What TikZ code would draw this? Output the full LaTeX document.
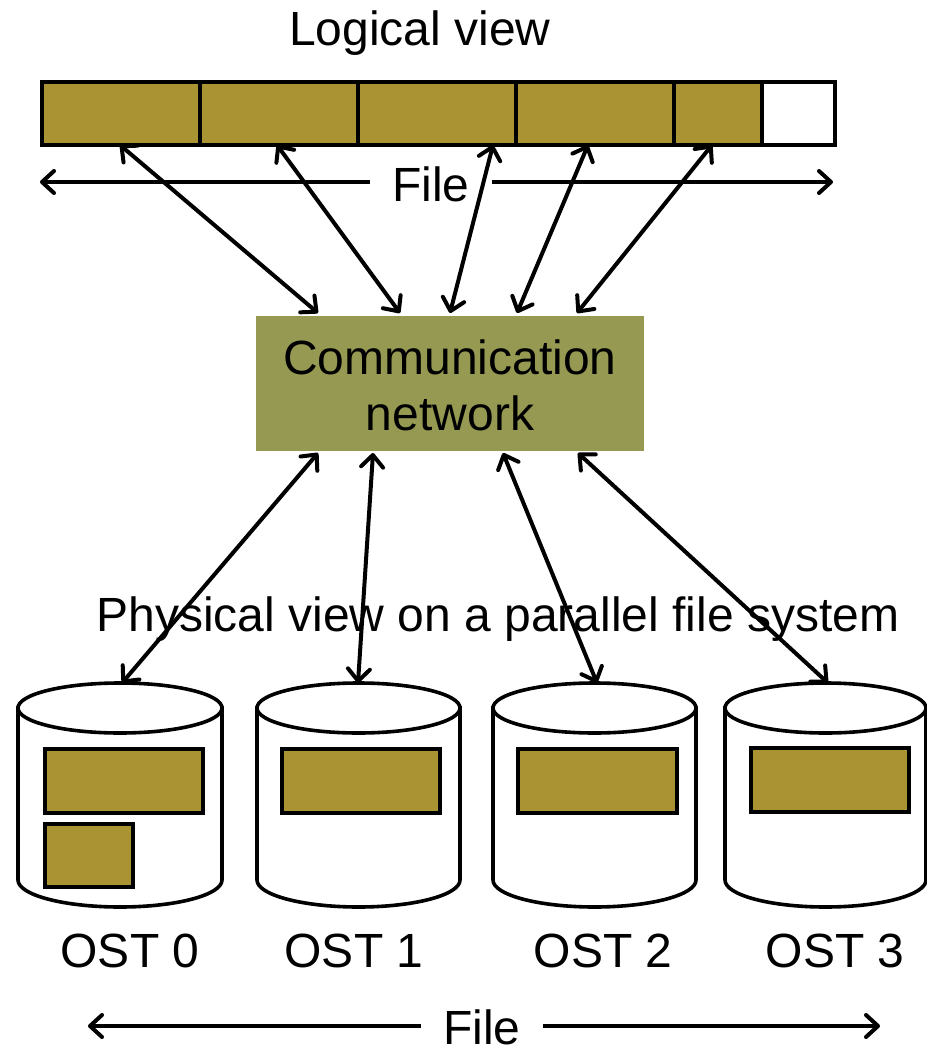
\documentclass[tikz,border=0pt]{standalone}
\usepackage{fontspec}
\setmainfont{Liberation Sans}
\usetikzlibrary{arrows.meta}
\definecolor{stripe}{RGB}{170,147,51}
\definecolor{netgreen}{RGB}{150,153,82}
\tikzset{barb/.tip={Straight Barb[length=12pt,width=22pt,line cap=round,line join=round]}}
\begin{document}
\begin{tikzpicture}[x=1pt,y=-1pt,
  every node/.style={font=\fontsize{48}{56}\selectfont, inner sep=0pt},
  cell/.style={draw=black, line width=3.6pt, fill=stripe, minimum height=63pt, anchor=north west},
  chunk/.style={draw=black, line width=3.6pt, fill=stripe, anchor=north west},
  disk/.style={draw=black, line width=3.6pt, fill=white},
  link/.style={line width=4pt, barb-barb},
  linkl/.style={line width=4pt, barb-},
  linkr/.style={line width=4pt, -barb},
  lbl/.style={anchor=base}]
\useasboundingbox (0,0) rectangle (926,1046);

% ---- logical view: the file as a row of stripes ----
\node[lbl] (ltitle) at (420,46) {Logical view};
\node[cell, minimum width=158pt] (s1) at (40,80) {};
\node[cell, minimum width=158pt] (s2) at (198,80) {};
\node[cell, minimum width=158pt] (s3) at (356,80) {};
\node[cell, minimum width=158pt] (s4) at (514,80) {};
\node[cell, minimum width=88pt]  (s5) at (672,80) {};
\node[cell, minimum width=73pt, fill=white] (s6) at (760,80) {};

\node[lbl] (ftop) at (431,201) {File};
\coordinate (ftl) at (40,182);
\coordinate (ftr) at (833,182);
\path (ftop.west |- ftl) ++(-22,0) coordinate (ftla);
\path (ftop.east |- ftr) ++(22,0) coordinate (ftra);
\draw[linkl] (ftl) -- (ftla);
\draw[linkr] (ftra) -- (ftr);

% ---- communication network ----
\node[fill=netgreen, minimum width=388pt, minimum height=135pt, anchor=north west] (net) at (256,316) {};
\node[lbl] (nl1) at (450,374) {Communication};
\node[lbl] (nl2) at (450,430) {network};

% link end points: stripes above, network
\coordinate (a1) at (120,145); \coordinate (b1) at (318,313);
\coordinate (a2) at (277,145); \coordinate (b2) at (400,313);
\coordinate (a3) at (493,145); \coordinate (b3) at (450,313);
\coordinate (a4) at (588,145); \coordinate (b4) at (517,313);
\coordinate (a5) at (712,145); \coordinate (b5) at (577,313);
\foreach \i in {1,...,5} \draw[link] (a\i) -- (b\i);

% ---- physical view: object storage targets ----
\foreach \n/\xl/\xr in {0/18/222, 1/257/460, 2/493/696, 3/725/926} {
  \pgfmathsetmacro{\rx}{(\xr-\xl)/2}
  \pgfmathsetmacro{\cx}{(\xr+\xl)/2}
  \draw[disk] (\xl,708) -- (\xl,880)
     arc[start angle=180, end angle=360, x radius=\rx pt, y radius=27pt]
     -- (\xr,708) -- cycle;
  \draw[disk] (\cx,708) ellipse[x radius=\rx pt, y radius=25pt];
  \coordinate (ost\n) at (\cx,683);
}
\node[chunk, minimum width=158pt, minimum height=64pt] (k1) at (43,747) {};
\node[chunk, minimum width=88pt,  minimum height=63pt] (k6) at (43,822) {};
\node[chunk, minimum width=158pt, minimum height=64pt] (k2) at (280,747) {};
\node[chunk, minimum width=159pt, minimum height=64pt] (k3) at (516,747) {};
\node[chunk, minimum width=158pt, minimum height=64pt] (k4) at (749,746) {};

\node[lbl] (ptitle) at (498,631) {Physical view on a parallel file system};

\coordinate (c1) at (318,453); \coordinate (d1) at (122,683);
\coordinate (c2) at (373,453); \coordinate (d2) at (358,683);
\coordinate (c3) at (503,453); \coordinate (d3) at (597,683);
\coordinate (c4) at (578,453); \coordinate (d4) at (828,683);
\foreach \i in {1,...,4} \draw[link] (c\i) -- (d\i);

\node[lbl] (o0) at (130,967) {OST 0};
\node[lbl] (o1) at (354,967) {OST 1};
\node[lbl] (o2) at (603,967) {OST 2};
\node[lbl] (o3) at (835,967) {OST 3};

% ---- file extent below the disks ----
\node[lbl] (fbot) at (482,1044) {File};
\coordinate (fbl) at (88,1026);
\coordinate (fbr) at (880,1026);
\path (fbot.west |- fbl) ++(-22,0) coordinate (fbla);
\path (fbot.east |- fbr) ++(22,0) coordinate (fbra);
\draw[linkl] (fbl) -- (fbla);
\draw[linkr] (fbra) -- (fbr);
\end{tikzpicture}
\end{document}
